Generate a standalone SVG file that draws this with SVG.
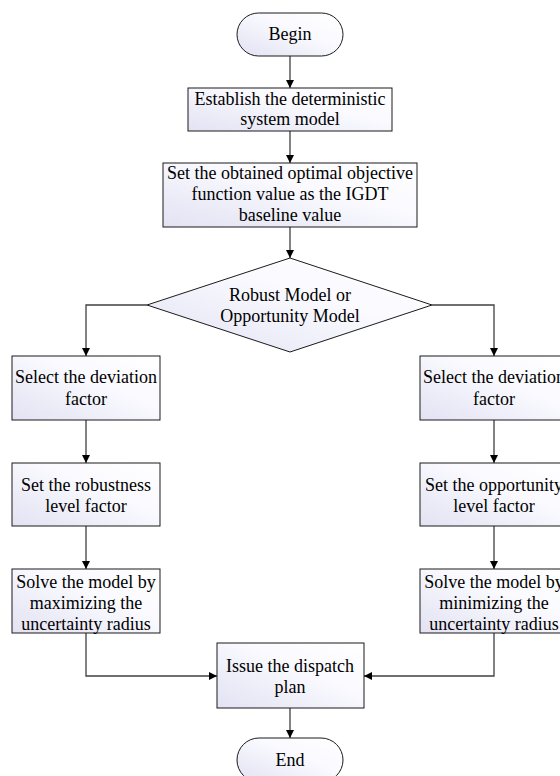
<svg xmlns="http://www.w3.org/2000/svg" width="560" height="776" viewBox="0 0 560 776">
<style>
.n{fill:url(#g);stroke:#1a1a1a;stroke-width:1}
.t{font-family:'Liberation Serif','Times New Roman',serif;font-size:18px;fill:#000;text-anchor:middle}
.c{fill:none;stroke:#404040;stroke-width:1.3}
</style>
<defs>
<linearGradient id="g" x1="0" y1="1" x2="1" y2="0">
<stop offset="0" stop-color="#e2e2f3"/>
<stop offset="0.6" stop-color="#fafaff"/>
<stop offset="1" stop-color="#ffffff"/>
</linearGradient>
<marker id="a" viewBox="0 0 10 10" refX="10" refY="5" markerWidth="8" markerHeight="8" markerUnits="userSpaceOnUse" orient="auto">
<path d="M0,0 L10,5 L0,10 Z" fill="#000"/>
</marker>
</defs>
<rect width="560" height="776" fill="#fff"/>
<g id="connectors">
<path class="c" d="M290,56 V88" marker-end="url(#a)"/>
<path class="c" d="M290,131 V163" marker-end="url(#a)"/>
<path class="c" d="M290,227 V258" marker-end="url(#a)"/>
<path class="c" d="M147,305 H86 V356" marker-end="url(#a)"/>
<path class="c" d="M432,305 H494 V356" marker-end="url(#a)"/>
<path class="c" d="M86,420 V463" marker-end="url(#a)"/>
<path class="c" d="M494,420 V463" marker-end="url(#a)"/>
<path class="c" d="M86,526 V569" marker-end="url(#a)"/>
<path class="c" d="M494,526 V569" marker-end="url(#a)"/>
<path class="c" d="M86,633 V676 H217" marker-end="url(#a)"/>
<path class="c" d="M494,633 V676 H364" marker-end="url(#a)"/>
<path class="c" d="M290,708 V738" marker-end="url(#a)"/>
</g>
<g id="begin">
<rect class="n" x="237" y="13" width="106" height="43" rx="21.5"/>
<text class="t" x="290" y="40">Begin</text>
</g>
<g id="establish">
<rect class="n" x="188" y="88" width="204" height="43"/>
<text class="t" x="290" y="105">Establish the deterministic</text>
<text class="t" x="290" y="125">system model</text>
</g>
<g id="baseline">
<rect class="n" x="163" y="163" width="254" height="64"/>
<text class="t" x="290" y="179">Set the obtained optimal objective</text>
<text class="t" x="290" y="200">function value as the IGDT</text>
<text class="t" x="290" y="221">baseline value</text>
</g>
<g id="decision">
<polygon class="n" points="290,258 432,305 290,352 147,305"/>
<text class="t" x="290" y="301">Robust Model or</text>
<text class="t" x="290" y="322">Opportunity Model</text>
</g>
<g id="select-left">
<rect class="n" x="12" y="356" width="148" height="64"/>
<text class="t" x="86" y="383">Select the deviation</text>
<text class="t" x="86" y="405">factor</text>
</g>
<g id="robustness">
<rect class="n" x="12" y="463" width="148" height="63"/>
<text class="t" x="86" y="491">Set the robustness</text>
<text class="t" x="86" y="512">level factor</text>
</g>
<g id="solve-left">
<rect class="n" x="12" y="569" width="148" height="64"/>
<text class="t" x="86" y="588">Solve the model by</text>
<text class="t" x="86" y="609">maximizing the</text>
<text class="t" x="86" y="630">uncertainty radius</text>
</g>
<g id="select-right">
<rect class="n" x="420" y="356" width="148" height="64"/>
<text class="t" x="494" y="383">Select the deviation</text>
<text class="t" x="494" y="405">factor</text>
</g>
<g id="opportunity">
<rect class="n" x="420" y="463" width="148" height="63"/>
<text class="t" x="494" y="491">Set the opportunity</text>
<text class="t" x="494" y="512">level factor</text>
</g>
<g id="solve-right">
<rect class="n" x="420" y="569" width="148" height="64"/>
<text class="t" x="494" y="588">Solve the model by</text>
<text class="t" x="494" y="609">minimizing the</text>
<text class="t" x="494" y="630">uncertainty radius</text>
</g>
<g id="issue">
<rect class="n" x="217" y="643" width="147" height="65"/>
<text class="t" x="290" y="672">Issue the dispatch</text>
<text class="t" x="290" y="693">plan</text>
</g>
<g id="end">
<rect class="n" x="237" y="738" width="106" height="44" rx="22"/>
<text class="t" x="290" y="766">End</text>
</g>
</svg>
